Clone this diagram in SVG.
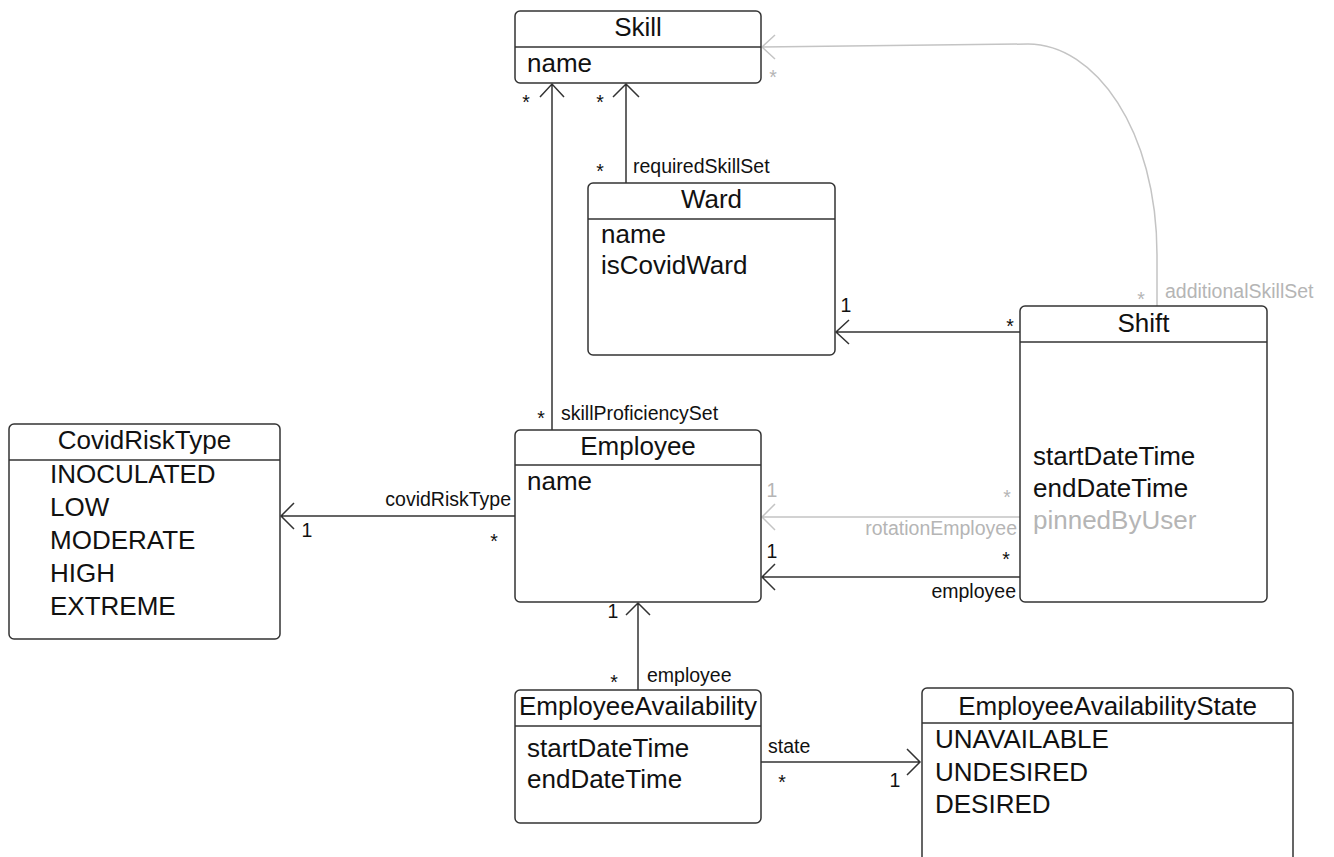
<svg xmlns="http://www.w3.org/2000/svg" width="1334" height="857" viewBox="0 0 1334 857">
<style>
text{font-family:"Liberation Sans",Arial,sans-serif;fill:#111}
.box{fill:#fff;stroke:#333;stroke-width:1.5}
.div{stroke:#333;stroke-width:1.5}
.t{font-size:26px;text-anchor:middle}
.a{font-size:26px}
.l{font-size:19.5px}
.m{font-size:19.5px;text-anchor:middle}
.e{text-anchor:end}
.g{fill:#b5b5b5}
.c{fill:none;stroke:#333;stroke-width:1.5}
.cg{fill:none;stroke:#c4c4c4;stroke-width:1.5}
</style>
<rect width="1334" height="857" fill="#fff"/>
<g id="connectors">
<path class="c" d="M552 430V84M540 97L552 84L564 97"/>
<path class="c" d="M626 183V84M613 97L626 84L639 97"/>
<path class="c" d="M1020 332H836M849 320L836 332L849 344"/>
<path class="cg" d="M1020 517H762M775 504L762 517L775 530"/>
<path class="c" d="M1020 577H762M775 564L762 577L775 590"/>
<path class="c" d="M515 516H281M294 503L281 516L294 529"/>
<path class="c" d="M638 690V603M626 615L638 603L650 615"/>
<path class="c" d="M761 762H920M907 749L920 762L907 775"/>
<path class="cg" d="M1157 306V255C1157 130 1095 44 1028 44L762 47M775 35L762 47L775 59"/>
<text class="m" x="526" y="109">*</text>
<text class="m" x="600" y="109">*</text>
<text class="m" x="600" y="178">*</text>
<text class="l" x="633" y="173">requiredSkillSet</text>
<text class="m" x="541" y="425">*</text>
<text class="l" x="561" y="420">skillProficiencySet</text>
<text class="m" x="846" y="312">1</text>
<text class="m" x="1010" y="333">*</text>
<text class="m g" x="772" y="497">1</text>
<text class="m g" x="1007" y="504">*</text>
<text class="l e g" x="1017" y="535">rotationEmployee</text>
<text class="m" x="772" y="558">1</text>
<text class="m" x="1006" y="566">*</text>
<text class="l e" x="1016" y="598">employee</text>
<text class="l e" x="511" y="506">covidRiskType</text>
<text class="m" x="307" y="537">1</text>
<text class="m" x="494" y="548">*</text>
<text class="m" x="613" y="618">1</text>
<text class="m" x="614" y="689">*</text>
<text class="l" x="647" y="682">employee</text>
<text class="l" x="768" y="753">state</text>
<text class="m" x="782" y="789">*</text>
<text class="m" x="895" y="787">1</text>
<text class="m g" x="773" y="84">*</text>
<text class="m g" x="1141" y="306">*</text>
<text class="l g" x="1165" y="298">additionalSkillSet</text>
</g>
<g id="Skill">
<rect class="box" x="515" y="11" width="246" height="72" rx="5"/>
<line class="div" x1="515" y1="47" x2="761" y2="47"/>
<text class="t" x="638" y="36">Skill</text>
<text class="a" x="527" y="72">name</text>
</g>
<g id="Ward">
<rect class="box" x="588" y="183" width="247" height="172" rx="5"/>
<line class="div" x1="588" y1="219" x2="835" y2="219"/>
<text class="t" x="711.5" y="208">Ward</text>
<text class="a" x="601" y="243">name</text>
<text class="a" x="601" y="274">isCovidWard</text>
</g>
<g id="Shift">
<rect class="box" x="1020" y="306" width="247" height="296" rx="5"/>
<line class="div" x1="1020" y1="342" x2="1267" y2="342"/>
<text class="t" x="1143.5" y="332">Shift</text>
<text class="a" x="1033" y="465">startDateTime</text>
<text class="a" x="1033" y="497">endDateTime</text>
<text class="a g" x="1033" y="529">pinnedByUser</text>
</g>
<g id="Employee">
<rect class="box" x="515" y="430" width="246" height="172" rx="5"/>
<line class="div" x1="515" y1="465" x2="761" y2="465"/>
<text class="t" x="638" y="455">Employee</text>
<text class="a" x="527" y="490">name</text>
</g>
<g id="CovidRiskType">
<rect class="box" x="9" y="424" width="271" height="215" rx="5"/>
<line class="div" x1="9" y1="460" x2="280" y2="460"/>
<text class="t" x="144.5" y="449">CovidRiskType</text>
<text class="a" x="50" y="483">INOCULATED</text>
<text class="a" x="50" y="516">LOW</text>
<text class="a" x="50" y="549">MODERATE</text>
<text class="a" x="50" y="582">HIGH</text>
<text class="a" x="50" y="615">EXTREME</text>
</g>
<g id="EmployeeAvailability">
<rect class="box" x="515" y="690" width="246" height="133" rx="5"/>
<line class="div" x1="515" y1="726" x2="761" y2="726"/>
<text class="t" x="638" y="715">EmployeeAvailability</text>
<text class="a" x="527" y="757">startDateTime</text>
<text class="a" x="527" y="788">endDateTime</text>
</g>
<g id="EmployeeAvailabilityState">
<rect class="box" x="922" y="688" width="371" height="200" rx="5"/>
<line class="div" x1="922" y1="723" x2="1293" y2="723"/>
<text class="t" x="1107.5" y="715">EmployeeAvailabilityState</text>
<text class="a" x="935" y="748">UNAVAILABLE</text>
<text class="a" x="935" y="781">UNDESIRED</text>
<text class="a" x="935" y="813">DESIRED</text>
</g>
</svg>
